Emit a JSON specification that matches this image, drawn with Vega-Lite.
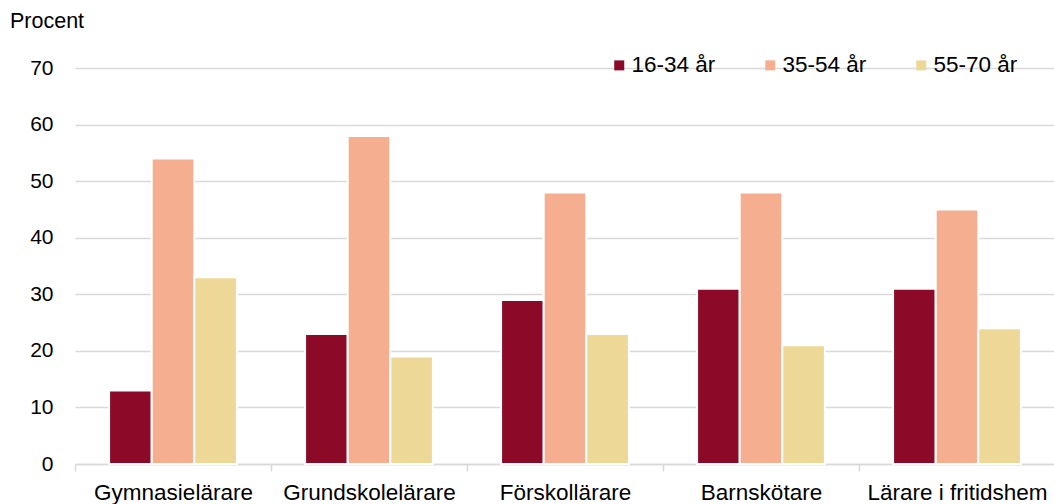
{
  "$schema": "https://vega.github.io/schema/vega-lite/v6.json",
  "width": 980,
  "height": 396,
  "autosize": {"type": "none"},
  "padding": {"left": 75, "top": 68, "right": 0, "bottom": 40},
  "background": "white",
  "data": {
    "values": [
      {"yrke": "Gymnasielärare", "grupp": "16-34 år", "procent": 13},
      {"yrke": "Gymnasielärare", "grupp": "35-54 år", "procent": 54},
      {"yrke": "Gymnasielärare", "grupp": "55-70 år", "procent": 33},
      {"yrke": "Grundskolelärare", "grupp": "16-34 år", "procent": 23},
      {"yrke": "Grundskolelärare", "grupp": "35-54 år", "procent": 58},
      {"yrke": "Grundskolelärare", "grupp": "55-70 år", "procent": 19},
      {"yrke": "Förskollärare", "grupp": "16-34 år", "procent": 29},
      {"yrke": "Förskollärare", "grupp": "35-54 år", "procent": 48},
      {"yrke": "Förskollärare", "grupp": "55-70 år", "procent": 23},
      {"yrke": "Barnskötare", "grupp": "16-34 år", "procent": 31},
      {"yrke": "Barnskötare", "grupp": "35-54 år", "procent": 48},
      {"yrke": "Barnskötare", "grupp": "55-70 år", "procent": 21},
      {"yrke": "Lärare i fritidshem", "grupp": "16-34 år", "procent": 31},
      {"yrke": "Lärare i fritidshem", "grupp": "35-54 år", "procent": 45},
      {"yrke": "Lärare i fritidshem", "grupp": "55-70 år", "procent": 24}
    ]
  },
  "config": {
    "view": {"stroke": null},
    "font": "Liberation Sans"
  },
  "title": {
    "text": "Procent",
    "anchor": "start",
    "frame": "group",
    "orient": "top",
    "offset": 22,
    "dx": -65,
    "fontSize": 21.5,
    "font": "Liberation Sans",
    "fontWeight": "normal",
    "color": "#000000"
  },
  "mark": {"type": "bar", "stroke": "white", "strokeWidth": 2},
  "encoding": {
    "x": {
      "field": "yrke",
      "type": "nominal",
      "sort": null,
      "scale": {"paddingInner": 0, "paddingOuter": 0},
      "axis": {
        "title": null,
        "labelAngle": 0,
        "labelFontSize": 22.5,
        "labelColor": "#000000",
        "labelPadding": 10,
        "labelOverlap": false,
        "labelBound": false,
        "labelLimit": 0,
        "domainColor": "#d9d9d9",
        "domainWidth": 1.5,
        "tickColor": "#d9d9d9",
        "tickWidth": 1.5,
        "tickSize": 7,
        "tickBand": "extent",
        "grid": false
      }
    },
    "xOffset": {
      "field": "grupp",
      "type": "nominal",
      "scale": {"paddingInner": 0, "paddingOuter": 0.8}
    },
    "y": {
      "field": "procent",
      "type": "quantitative",
      "scale": {"domain": [0, 70]},
      "axis": {
        "title": null,
        "values": [0, 10, 20, 30, 40, 50, 60, 70],
        "domain": false,
        "ticks": false,
        "labelFontSize": 21,
        "labelColor": "#000000",
        "labelPadding": 22,
        "gridColor": "#d9d9d9",
        "gridWidth": 1.5
      }
    },
    "color": {
      "field": "grupp",
      "type": "nominal",
      "scale": {
        "domain": ["16-34 år", "35-54 år", "55-70 år"],
        "range": ["#8c0927", "#f6ae90", "#edd898"]
      },
      "legend": {
        "title": null,
        "orient": "none",
        "legendX": 533,
        "legendY": -14,
        "direction": "horizontal",
        "symbolType": "square",
        "symbolSize": 100,
        "symbolStrokeWidth": 0,
        "labelFontSize": 22.5,
        "labelColor": "#000000",
        "columnPadding": 43,
        "labelOffset": 1
      }
    }
  }
}
